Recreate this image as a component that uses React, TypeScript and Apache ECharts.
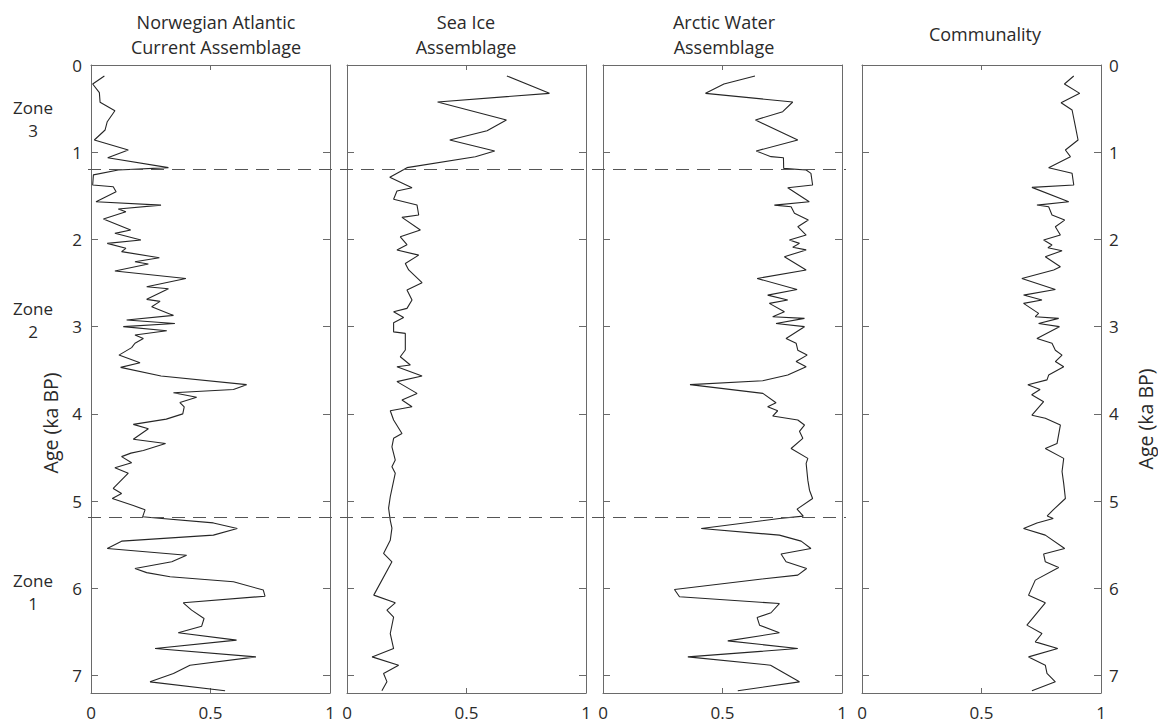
import React, { useEffect, useRef } from 'react';
import * as echarts from 'echarts';

// ---------- data ----------
const panelTitles = [
  'Norwegian Atlantic\nCurrent Assemblage',
  'Sea Ice\nAssemblage',
  'Arctic Water\nAssemblage',
  'Communality',
];
const yAxisName = 'Age (ka BP)';
const zoneLabels = ['Zone\n3', 'Zone\n2', 'Zone\n1'];
const zoneLabelAges = [0.62, 2.92, 6.04];
const zoneBoundaries = [1.204, 5.19];

const nacAge = [0.126, 0.218, 0.317, 0.428, 0.524, 0.65, 0.745, 0.86, 0.975, 1.063, 1.177, 1.204, 1.26, 1.376, 1.395, 1.453, 1.567, 1.606, 1.651, 1.682, 1.766, 1.892, 1.93, 2.007, 2.045, 2.102, 2.14, 2.21, 2.255, 2.282, 2.362, 2.447, 2.542, 2.565, 2.687, 2.71, 2.771, 2.871, 2.924, 2.963, 3.0, 3.047, 3.096, 3.135, 3.19, 3.24, 3.326, 3.414, 3.467, 3.566, 3.665, 3.72, 3.758, 3.81, 3.87, 3.92, 4.0, 4.06, 4.12, 4.17, 4.29, 4.34, 4.42, 4.45, 4.49, 4.56, 4.618, 4.68, 4.855, 4.913, 4.97, 5.05, 5.1, 5.18, 5.19, 5.25, 5.313, 5.39, 5.459, 5.543, 5.62, 5.696, 5.772, 5.82, 5.868, 5.925, 6.02, 6.09, 6.166, 6.25, 6.346, 6.434, 6.51, 6.594, 6.69, 6.786, 6.881, 6.976, 7.072, 7.175];
const nacVal = [0.056, 0.007, 0.035, 0.038, 0.1, 0.068, 0.059, 0.014, 0.156, 0.07, 0.324, 0.114, 0.01, 0.007, 0.093, 0.105, 0.021, 0.293, 0.114, 0.146, 0.052, 0.166, 0.1, 0.209, 0.068, 0.146, 0.128, 0.286, 0.184, 0.24, 0.1, 0.397, 0.233, 0.324, 0.233, 0.289, 0.254, 0.345, 0.149, 0.351, 0.135, 0.317, 0.184, 0.219, 0.184, 0.17, 0.117, 0.205, 0.124, 0.293, 0.651, 0.596, 0.345, 0.442, 0.372, 0.39, 0.384, 0.315, 0.177, 0.24, 0.177, 0.312, 0.219, 0.167, 0.128, 0.17, 0.1, 0.156, 0.093, 0.128, 0.089, 0.177, 0.226, 0.216, 0.261, 0.512, 0.612, 0.512, 0.128, 0.068, 0.4, 0.338, 0.184, 0.233, 0.331, 0.596, 0.721, 0.728, 0.386, 0.421, 0.473, 0.463, 0.365, 0.609, 0.268, 0.69, 0.414, 0.345, 0.247, 0.561];

const seaIceAge = [0.126, 0.325, 0.424, 0.631, 0.753, 0.86, 0.986, 1.051, 1.177, 1.22, 1.288, 1.407, 1.445, 1.54, 1.606, 1.72, 1.747, 1.892, 1.97, 2.06, 2.12, 2.18, 2.275, 2.35, 2.496, 2.58, 2.695, 2.79, 2.83, 2.894, 2.955, 3.06, 3.077, 3.268, 3.345, 3.44, 3.46, 3.566, 3.63, 3.765, 3.84, 3.918, 3.964, 4.07, 4.224, 4.28, 4.377, 4.53, 4.607, 4.68, 4.95, 5.08, 5.22, 5.31, 5.45, 5.6, 5.696, 6.078, 6.166, 6.25, 6.33, 6.518, 6.69, 6.786, 6.881, 6.976, 7.07, 7.175];
const seaIceVal = [0.669, 0.847, 0.379, 0.667, 0.586, 0.43, 0.618, 0.537, 0.251, 0.223, 0.179, 0.272, 0.209, 0.195, 0.293, 0.3, 0.23, 0.307, 0.223, 0.251, 0.209, 0.3, 0.244, 0.258, 0.314, 0.251, 0.272, 0.251, 0.195, 0.237, 0.195, 0.195, 0.244, 0.244, 0.223, 0.265, 0.209, 0.314, 0.209, 0.293, 0.23, 0.272, 0.181, 0.195, 0.23, 0.195, 0.188, 0.202, 0.188, 0.202, 0.181, 0.174, 0.181, 0.188, 0.181, 0.153, 0.188, 0.112, 0.202, 0.167, 0.195, 0.181, 0.195, 0.105, 0.216, 0.153, 0.167, 0.146];

const arcticAge = [0.126, 0.218, 0.325, 0.424, 0.535, 0.631, 0.86, 0.986, 1.051, 1.063, 1.185, 1.204, 1.242, 1.376, 1.407, 1.567, 1.606, 1.625, 1.7, 1.778, 1.854, 1.95, 2.007, 2.045, 2.09, 2.12, 2.198, 2.35, 2.447, 2.573, 2.638, 2.695, 2.733, 2.83, 2.886, 2.905, 2.963, 3.0, 3.135, 3.19, 3.27, 3.326, 3.4, 3.46, 3.555, 3.62, 3.665, 3.765, 3.873, 3.918, 3.964, 4.025, 4.07, 4.128, 4.2, 4.28, 4.397, 4.51, 4.568, 4.76, 4.875, 4.97, 5.092, 5.172, 5.199, 5.314, 5.39, 5.459, 5.543, 5.607, 5.696, 5.772, 5.849, 5.898, 6.013, 6.097, 6.174, 6.28, 6.335, 6.422, 6.51, 6.602, 6.69, 6.786, 6.881, 7.072, 7.175];
const arcticVal = [0.636, 0.506, 0.429, 0.794, 0.752, 0.638, 0.815, 0.641, 0.703, 0.755, 0.756, 0.85, 0.87, 0.877, 0.773, 0.863, 0.717, 0.787, 0.801, 0.859, 0.815, 0.85, 0.78, 0.822, 0.794, 0.85, 0.759, 0.85, 0.645, 0.812, 0.689, 0.773, 0.696, 0.759, 0.71, 0.843, 0.724, 0.843, 0.766, 0.808, 0.815, 0.854, 0.808, 0.85, 0.773, 0.668, 0.364, 0.669, 0.724, 0.689, 0.731, 0.71, 0.815, 0.843, 0.822, 0.836, 0.787, 0.857, 0.85, 0.857, 0.864, 0.877, 0.812, 0.838, 0.738, 0.411, 0.738, 0.829, 0.87, 0.745, 0.766, 0.852, 0.815, 0.648, 0.299, 0.32, 0.738, 0.703, 0.645, 0.655, 0.738, 0.522, 0.815, 0.355, 0.701, 0.822, 0.564];

const commAge = [0.126, 0.218, 0.325, 0.432, 0.516, 0.707, 0.86, 0.975, 1.051, 1.177, 1.242, 1.376, 1.403, 1.567, 1.606, 1.625, 1.72, 1.778, 1.854, 1.95, 2.007, 2.064, 2.095, 2.129, 2.198, 2.313, 2.35, 2.447, 2.573, 2.638, 2.695, 2.733, 2.848, 2.886, 2.905, 2.963, 3.0, 3.135, 3.19, 3.27, 3.326, 3.4, 3.46, 3.555, 3.61, 3.665, 3.72, 3.78, 3.86, 4.015, 4.05, 4.128, 4.34, 4.397, 4.51, 4.66, 4.8, 4.97, 5.1, 5.17, 5.2, 5.25, 5.314, 5.39, 5.543, 5.607, 5.696, 5.762, 5.906, 6.078, 6.166, 6.422, 6.518, 6.614, 6.69, 6.786, 6.881, 6.976, 7.072, 7.175];
const commVal = [0.886, 0.847, 0.911, 0.833, 0.879, 0.893, 0.904, 0.851, 0.872, 0.781, 0.879, 0.886, 0.711, 0.865, 0.732, 0.781, 0.795, 0.848, 0.809, 0.83, 0.76, 0.795, 0.778, 0.837, 0.767, 0.83, 0.802, 0.669, 0.809, 0.676, 0.753, 0.676, 0.739, 0.725, 0.823, 0.739, 0.826, 0.732, 0.795, 0.809, 0.837, 0.809, 0.844, 0.781, 0.774, 0.694, 0.745, 0.71, 0.76, 0.711, 0.767, 0.83, 0.816, 0.767, 0.844, 0.837, 0.844, 0.851, 0.8, 0.775, 0.8, 0.732, 0.676, 0.767, 0.848, 0.76, 0.767, 0.823, 0.725, 0.697, 0.767, 0.69, 0.753, 0.725, 0.819, 0.697, 0.767, 0.774, 0.809, 0.711];

const panelAges = [nacAge, seaIceAge, arcticAge, commAge];
const panelVals = [nacVal, seaIceVal, arcticVal, commVal];

// ---------- layout ----------
const FONT = '"Open Sans", "Noto Sans", sans-serif';
const GRID_TOP = 65;
const GRID_H = 628;
const PANEL_LEFTS = [91, 347, 603, 862];
const PANEL_W = 239;
const TITLE_X = [216, 466, 724, 985];
const Y_MAX = 7.2;
const AXIS_COLOR = '#6a6a6a';
const TEXT_COLOR = '#2a2a2a';

export default function App() {
  const ref = useRef<HTMLDivElement>(null);
  useEffect(() => {
    if (!ref.current) return;
    const chart = echarts.init(ref.current, undefined, { renderer: 'svg' });

    const grids: any[] = [];
    const xAxes: any[] = [];
    const yAxes: any[] = [];
    const series: any[] = [];

    PANEL_LEFTS.forEach((left, i) => {
      grids.push({ left, top: GRID_TOP, width: PANEL_W, height: GRID_H, outerBoundsMode: 'none' });
      const axisLine = { show: true, onZero: false, lineStyle: { color: AXIS_COLOR, width: 1 } };
      xAxes.push({
        type: 'value', gridIndex: i, min: 0, max: 1, interval: 0.5, position: 'bottom',
        axisLine, splitLine: { show: false },
        axisTick: { show: true, inside: true, length: 5, lineStyle: { color: AXIS_COLOR } },
        axisLabel: { show: true, fontSize: 17, lineHeight: 19, color: TEXT_COLOR, fontFamily: FONT, margin: 10 },
      });
      xAxes.push({
        type: 'value', gridIndex: i, min: 0, max: 1, interval: 0.5, position: 'top',
        axisLine, splitLine: { show: false },
        axisTick: { show: true, inside: true, length: 5, lineStyle: { color: AXIS_COLOR } },
        axisLabel: { show: false },
      });
      const yCommon = {
        type: 'value', gridIndex: i, min: 0, max: Y_MAX, interval: 1, inverse: true,
        axisLine, splitLine: { show: false },
        axisTick: { show: true, inside: true, length: 7, lineStyle: { color: AXIS_COLOR } },
      };
      yAxes.push({
        ...yCommon, position: 'left',
        axisLabel: {
          show: i === 0, fontSize: 17, color: TEXT_COLOR, fontFamily: FONT, margin: 9,
          formatter: (v: number) => (Number.isInteger(v) ? String(v) : ''),
        },
      });
      yAxes.push({
        ...yCommon, position: 'right',
        axisLabel: {
          show: i === 3, fontSize: 17, color: TEXT_COLOR, fontFamily: FONT, margin: 8,
          formatter: (v: number) => (Number.isInteger(v) ? String(v) : ''),
        },
      });
      series.push({
        type: 'line', xAxisIndex: 2 * i, yAxisIndex: 2 * i,
        data: panelAges[i].map((a, k) => [panelVals[i][k], a]),
        showSymbol: false, symbol: 'none',
        lineStyle: { color: '#262626', width: 1.1 },
        silent: true,
      });
    });

    // overlay grid for zone boundaries (dashed lines crossing panels)
    grids.push({ left: 88, top: GRID_TOP, width: 758, height: GRID_H, outerBoundsMode: 'none' });
    xAxes.push({ type: 'value', gridIndex: 4, min: 0, max: 1, show: false });
    yAxes.push({ type: 'value', gridIndex: 4, min: 0, max: Y_MAX, inverse: true, show: false });
    series.push({
      type: 'line', xAxisIndex: 8, yAxisIndex: 8, data: [], silent: true,
      markLine: {
        silent: true, symbol: ['none', 'none'], label: { show: false },
        lineStyle: { type: [13, 8], color: '#555', width: 1 },
        data: zoneBoundaries.map((b) => ({ yAxis: b })),
      },
    });

    const graphic: any[] = [];
    panelTitles.forEach((t, i) => {
      graphic.push({
        type: 'text', x: TITLE_X[i], y: 34,
        style: { text: t, fontSize: 18, fontFamily: FONT, fill: TEXT_COLOR, align: 'center', verticalAlign: 'middle', lineHeight: 25 },
      });
    });
    zoneLabels.forEach((t, i) => {
      graphic.push({
        type: 'text', x: 33, y: GRID_TOP + (zoneLabelAges[i] / Y_MAX) * GRID_H,
        style: { text: t, fontSize: 17, fontFamily: FONT, fill: TEXT_COLOR, align: 'center', verticalAlign: 'middle', lineHeight: 23 },
      });
    });
    // axis names (rotated, reading bottom to top)
    [[50, 423], [1145, 419]].forEach(([x, y]) => {
      graphic.push({
        type: 'text', x, y, rotation: Math.PI / 2,
        style: { text: yAxisName, fontSize: 19.5, fontFamily: FONT, fill: TEXT_COLOR, align: 'center', verticalAlign: 'middle' },
      });
    });

    chart.setOption({
      animation: false,
      backgroundColor: '#ffffff',
      textStyle: { fontFamily: FONT },
      grid: grids,
      xAxis: xAxes,
      yAxis: yAxes,
      series,
      graphic,
    });
    return () => chart.dispose();
  }, []);

  return (
    <div
      ref={ref}
      style={{ position: 'fixed', left: 0, top: 0, width: 1158, height: 724, background: '#fff' }}
    />
  );
}
